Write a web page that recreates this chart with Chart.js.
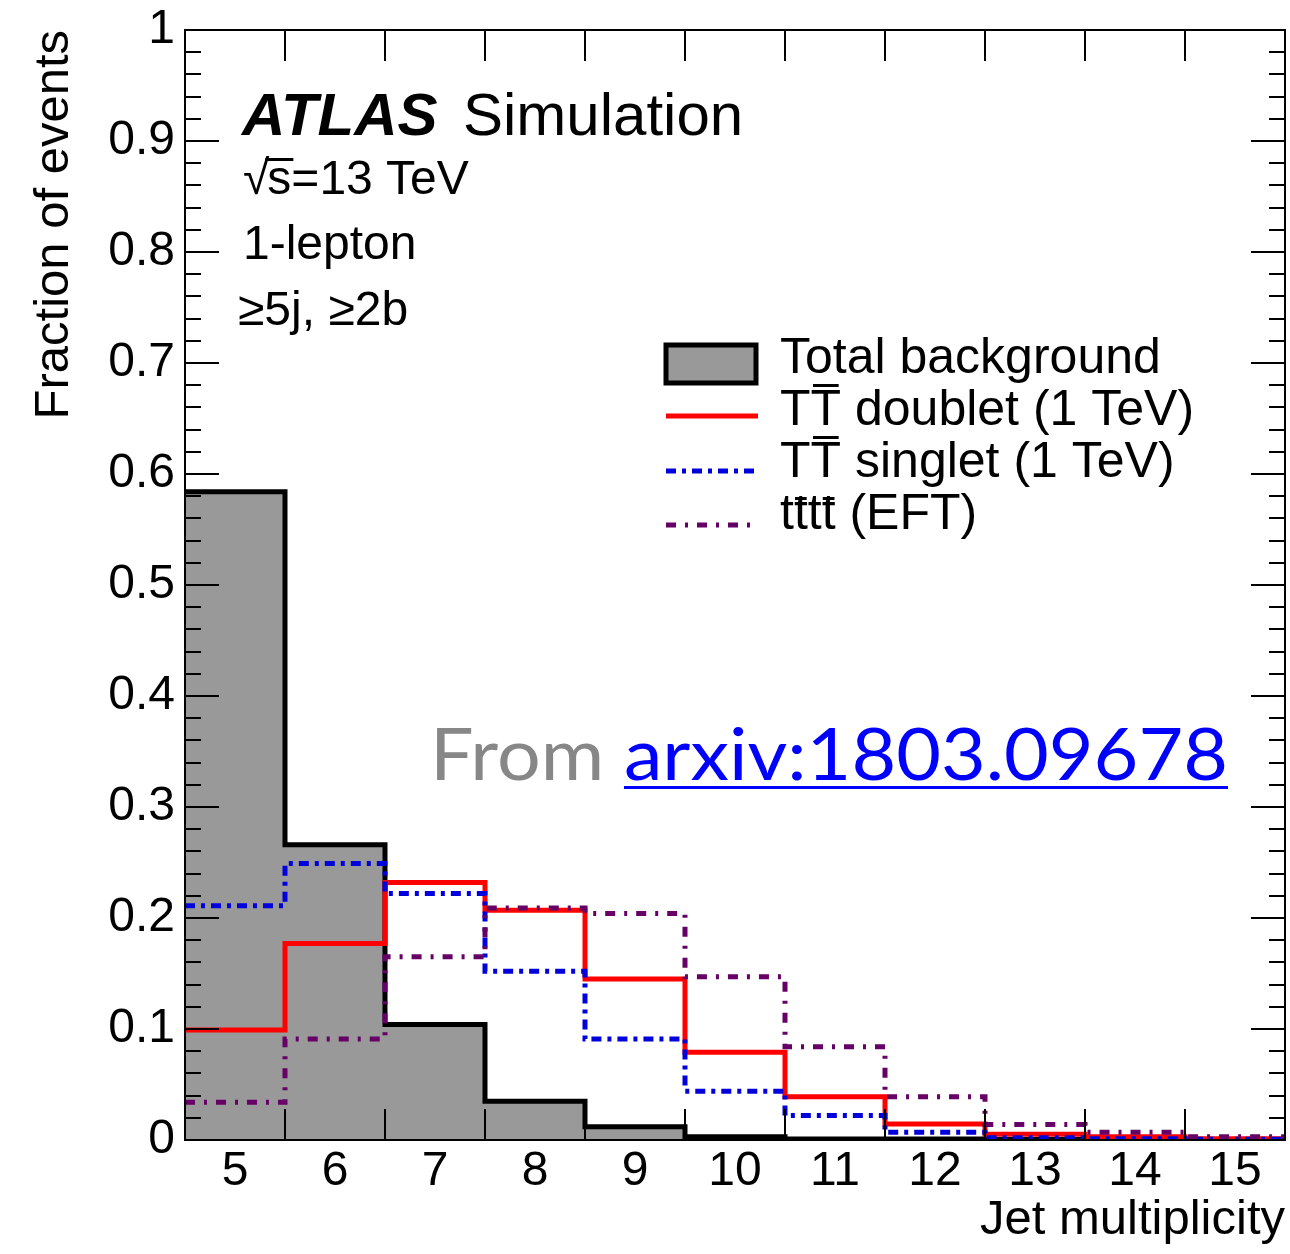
<!DOCTYPE html>
<html>
<head>
<meta charset="utf-8">
<title>Jet multiplicity</title>
<script src="https://cdn.jsdelivr.net/npm/chart.js@4.4.1/dist/chart.umd.min.js"></script>
<style>
    html, body { margin: 0; padding: 0; background: #fff; }
    #wrap { width: 1290px; height: 1254px; position: relative; }
</style>
</head>
<body>
<div id="wrap"><canvas id="jetChart"></canvas></div>
<script>
// jet multiplicity bins (last bin is inclusive overflow)
const jetBins = [5, 6, 7, 8, 9, 10, 11, 12, 13, 14, 15];

// normalised distributions, one value per bin
const totalBackground = [0.584, 0.266, 0.104, 0.035, 0.012, 0.003, 0.001, 0.0008, 0.0005, 0.0003, 0.0002];
const doubletTT = [0.099, 0.177, 0.232, 0.207, 0.145, 0.079, 0.039, 0.0145, 0.0052, 0.003, 0.0012];
const singletTT = [0.211, 0.249, 0.222, 0.152, 0.091, 0.044, 0.022, 0.007, 0.002, 0.0012, 0.0006];
const fourTopEFT = [0.034, 0.091, 0.165, 0.209, 0.204, 0.147, 0.084, 0.039, 0.014, 0.007, 0.003];

const yTicks = [0, 0.1, 0.2, 0.3, 0.4, 0.5, 0.6, 0.7, 0.8, 0.9, 1];
const yTickLabels = ['0', '0.1', '0.2', '0.3', '0.4', '0.5', '0.6', '0.7', '0.8', '0.9', '1'];

const FONT = '"Liberation Sans", Arial, Helvetica, sans-serif';
const BLUE_DASH = [10, 6, 4, 6];
const PURPLE_DASH = [10, 9, 3, 9];
const LINE_W = 5;

// histogram outline: one point per lower bin edge plus the final upper edge
function histPoints(values) {
    const pts = jetBins.map((b, i) => ({ x: b - 0.5, y: values[i] }));
    pts.push({ x: jetBins[jetBins.length - 1] + 0.5, y: values[values.length - 1] });
    return pts;
}

function histDataset(label, values, color, dash, order) {
    return {
        label,
        data: histPoints(values),
        stepped: 'before',
        borderColor: color,
        borderWidth: LINE_W,
        borderDash: dash,
        borderCapStyle: 'butt',
        borderJoinStyle: 'miter',
        pointRadius: 0,
        fill: false,
        order
    };
}

// text with a bar over selected characters (TT-bar, t-bar)
function drawBarred(ctx, parts, x, y, barHeight) {
    parts.forEach(p => {
        const w = ctx.measureText(p.text).width;
        ctx.fillText(p.text, x, y);
        if (p.bar) {
            ctx.fillRect(x + w * 0.08, y - barHeight, w * 0.84, 3);
        }
        x += w;
    });
    return x;
}

const rootStyle = {
    id: 'rootStyle',
    afterDraw(chart) {
        const ctx = chart.ctx;
        const xs = chart.scales.x;
        const ys = chart.scales.y;
        const a = chart.chartArea;
        ctx.save();

        // frame
        ctx.strokeStyle = '#000';
        ctx.lineWidth = 2;
        ctx.setLineDash([]);
        ctx.strokeRect(a.left, a.top, a.right - a.left, a.bottom - a.top);

        // x ticks at the bin edges, top and bottom, pointing inwards
        ctx.beginPath();
        for (let i = 1; i < jetBins.length; i++) {
            const px = Math.round(xs.getPixelForValue(jetBins[i] - 0.5));
            ctx.moveTo(px, a.bottom); ctx.lineTo(px, a.bottom - 31);
            ctx.moveTo(px, a.top); ctx.lineTo(px, a.top + 31);
        }
        // y ticks, major every 0.1 and minor every 0.02, left and right
        for (let k = 1; k < 50; k++) {
            const py = Math.round(ys.getPixelForValue(k * 0.02));
            const len = k % 5 === 0 ? 34 : 16;
            ctx.moveTo(a.left, py); ctx.lineTo(a.left + len, py);
            ctx.moveTo(a.right, py); ctx.lineTo(a.right - len, py);
        }
        ctx.stroke();

        ctx.fillStyle = '#000';

        // axis titles
        ctx.font = '49px ' + FONT;
        ctx.textBaseline = 'alphabetic';
        ctx.textAlign = 'right';
        ctx.fillText('Jet multiplicity', a.right, 1234);
        ctx.save();
        ctx.translate(68, 30);
        ctx.rotate(-Math.PI / 2);
        ctx.fillText('Fraction of events', 0, 0);
        ctx.restore();

        // ATLAS label block
        ctx.textAlign = 'left';
        ctx.font = 'italic bold 60px ' + FONT;
        ctx.fillText('ATLAS', 242, 135);
        ctx.font = '60px ' + FONT;
        ctx.fillText('Simulation', 463, 135);

        ctx.font = '48px ' + FONT;
        const rootW = ctx.measureText('\u221A').width;
        ctx.fillText('\u221A', 243, 194);
        ctx.fillText('s=13 TeV', 243 + rootW - 2, 194);
        const sW = ctx.measureText('s').width;
        ctx.fillRect(243 + rootW - 4, 158, sW + 4, 3);
        ctx.fillText('1-lepton', 243, 259);
        ctx.fillText('\u22655j, \u22652b', 238, 325);

        // legend
        ctx.fillStyle = '#999999';
        ctx.fillRect(666, 345, 90, 38);
        ctx.lineWidth = LINE_W;
        ctx.strokeStyle = '#000';
        ctx.strokeRect(666, 345, 90, 38);

        const legendLines = [
            { y: 416, color: '#ff0000', dash: [] },
            { y: 471, color: '#0000dd', dash: BLUE_DASH },
            { y: 525, color: '#660066', dash: PURPLE_DASH }
        ];
        legendLines.forEach(l => {
            ctx.beginPath();
            ctx.strokeStyle = l.color;
            ctx.setLineDash(l.dash);
            ctx.moveTo(666, l.y);
            ctx.lineTo(758, l.y);
            ctx.stroke();
        });
        ctx.setLineDash([]);

        ctx.fillStyle = '#000';
        ctx.font = '50px ' + FONT;
        const lx = 780;
        ctx.fillText('Total background', lx, 373);
        drawBarred(ctx, [{ text: 'T' }, { text: 'T', bar: true }, { text: ' doublet (1 TeV)' }], lx, 425, 41);
        drawBarred(ctx, [{ text: 'T' }, { text: 'T', bar: true }, { text: ' singlet (1 TeV)' }], lx, 477, 41);
        drawBarred(ctx, [{ text: 't' }, { text: 't', bar: true }, { text: 't' }, { text: 't', bar: true }, { text: ' (EFT)' }], lx, 529, 32);

        // source note
        ctx.font = '72px Lato, "Open Sans", sans-serif';
        const fromText = 'From ';
        const linkText = 'arxiv:1803.09678';
        const w1 = ctx.measureText(fromText).width;
        const w2 = ctx.measureText(linkText).width;
        const sx = 798 / (w1 + w2);
        ctx.save();
        ctx.translate(430, 780);
        ctx.scale(sx, 1);
        ctx.fillStyle = '#878787';
        ctx.fillText(fromText, 0, 0);
        ctx.fillStyle = '#0000ff';
        ctx.fillText(linkText, w1, 0);
        ctx.fillRect(w1, 6, w2, 3);
        ctx.restore();

        ctx.restore();
    }
};

const ctx = document.getElementById('jetChart').getContext('2d');
const chart = new Chart(ctx, {
    type: 'line',
    data: {
        datasets: [
            Object.assign(histDataset('Total background', totalBackground, '#000000', [], 4), {
                fill: 'origin',
                backgroundColor: '#999999'
            }),
            histDataset('TT doublet (1 TeV)', doubletTT, '#ff0000', [], 3),
            histDataset('TT singlet (1 TeV)', singletTT, '#0000dd', BLUE_DASH, 2),
            histDataset('tttt (EFT)', fourTopEFT, '#660066', PURPLE_DASH, 1)
        ]
    },
    options: {
        responsive: true,
        maintainAspectRatio: false,
        animation: false,
        devicePixelRatio: 1,
        layout: { padding: { top: 30, right: 5, left: 0, bottom: 0 } },
        plugins: {
            legend: { display: false },
            tooltip: { enabled: false }
        },
        scales: {
            x: {
                type: 'linear',
                min: 4.5,
                max: 15.5,
                grid: { display: false, drawTicks: false },
                border: { display: false },
                afterBuildTicks: scale => {
                    scale.ticks = jetBins.map(v => ({ value: v }));
                },
                afterFit: scale => {
                    scale.height = 114;
                    scale.paddingLeft = 0;
                    scale.paddingRight = 0;
                },
                ticks: {
                    autoSkip: false,
                    maxRotation: 0,
                    padding: 3,
                    color: '#000',
                    font: { family: FONT, size: 48 },
                    callback: v => String(v)
                }
            },
            y: {
                type: 'linear',
                min: 0,
                max: 1,
                grid: { display: false, drawTicks: false },
                border: { display: false },
                afterBuildTicks: scale => {
                    scale.ticks = yTicks.map(v => ({ value: v }));
                },
                afterFit: scale => {
                    scale.width = 185;
                    scale.paddingTop = 0;
                    scale.paddingBottom = 0;
                },
                ticks: {
                    padding: 10,
                    color: '#000',
                    font: { family: FONT, size: 48 },
                    callback: (v, i) => yTickLabels[i]
                }
            }
        }
    },
    plugins: [rootStyle]
});
</script>
</body>
</html>
